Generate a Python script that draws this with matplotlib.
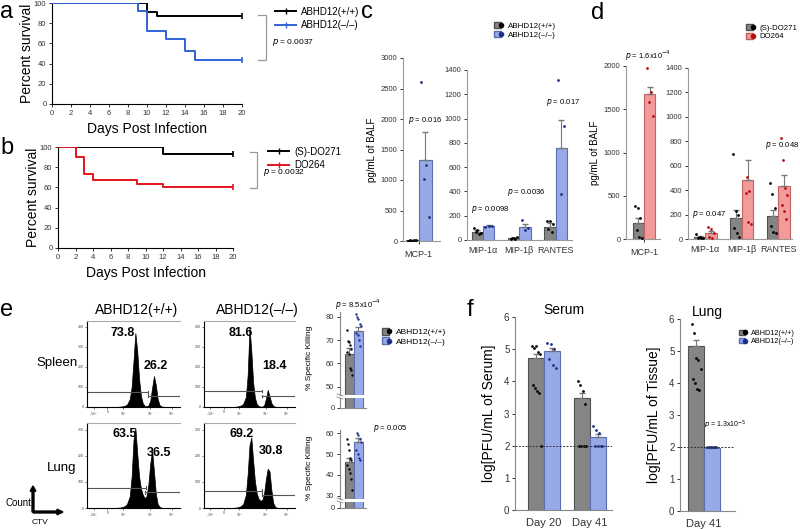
import numpy as np
import matplotlib
matplotlib.use('Agg')
import matplotlib.pyplot as plt
from matplotlib.lines import Line2D
from matplotlib.patches import Patch
from matplotlib.legend_handler import HandlerTuple

plt.rcParams['font.family'] = ['Liberation Sans', 'DejaVu Sans']
plt.rcParams['axes.linewidth'] = 0.8

# ---- data ----
# a: survival ABHD12
days_a_wt = [0, 10, 11, 20]
surv_a_wt = [100, 91, 87, 87]
days_a_ko = [0, 9, 10, 12, 14, 15, 20]
surv_a_ko = [100, 92, 72, 64, 52, 44, 44]
# b: survival DO271 / DO264
days_b_ctrl = [0, 12, 20]
surv_b_ctrl = [100, 93, 93]
days_b_inh = [0, 2, 3, 4, 9, 12, 20]
surv_b_inh = [100, 90, 73, 67, 63, 60, 60]

# c: cytokines ABHD12(+/+) vs (-/-)
c_wt_mean = [10, 70, 15, 110]
c_wt_err = [5, 15, 5, 30]
c_ko_mean = [1320, 115, 105, 755]
c_ko_err = [470, 8, 25, 230]
c_wt_pts = [[5, 8, 12, 15, 20], [95, 85, 60, 65, 50], [10, 20, 25, 15, 8], [160, 155, 130, 90, 70]]
c_ko_pts = [[2610, 1240, 1010, 390], [110, 112, 118], [165, 100, 85], [1320, 935, 375]]
c_pvals = ['0.016', '0.0098', '0.0036', '0.017']

# d: cytokines (S)-DO271 vs DO264
d_ctrl_mean = [185, 15, 170, 190]
d_ctrl_err = [55, 6, 70, 50]
d_inh_mean = [1680, 48, 480, 430]
d_inh_err = [80, 18, 170, 90]
d_ctrl_pts = [[380, 360, 240, 100, 20, 10], [40, 20, 12, 8, 5], [700, 230, 200, 90, 50, 20],
              [460, 370, 250, 110, 60, 50]]
d_inh_pts = [[1980, 1700, 1580, 1420], [100, 80, 50, 20, 5], [1420, 510, 390, 380, 140, 120],
             [830, 650, 420, 360, 280, 230, 160]]
d_pvals = [r'$p$ = 1.6x10$^{-4}$', r'$p$ = 0.047', None, r'$p$ = 0.048']

cyto_left = ['MCP-1']
cyto_right = ['MIP-1α', 'MIP-1β', 'RANTES']

# e: CTV histograms (channel, count)
hist_ch = [0, 30, 36, 40, 43, 46, 48, 50, 52, 54, 56, 58, 60, 62, 64, 66, 68, 70, 72, 74, 76, 78, 80, 84, 100]
hist_spleen_wt = [0, 0, 2, 5, 12, 40, 100, 230, 370, 280, 140, 55, 18, 6, 4, 8, 30, 95, 155, 110, 40, 10, 3, 0, 0]
hist_spleen_ko = [0, 0, 2, 6, 15, 50, 160, 400, 280, 120, 45, 15, 5, 2, 2, 8, 40, 85, 55, 20, 6, 2, 0, 0, 0]
hist_lung_wt = [0, 0, 2, 6, 15, 45, 120, 260, 305, 210, 120, 75, 50, 38, 45, 90, 170, 220, 140, 55, 15, 5, 1, 0, 0]
hist_lung_ko = [0, 0, 2, 6, 15, 50, 130, 240, 270, 180, 100, 55, 35, 28, 30, 55, 110, 150, 140, 70, 20, 5, 1, 0, 0]
pct_spleen_wt = ['73.8', '26.2']
pct_spleen_ko = ['81.6', '18.4']
pct_lung_wt = ['63.5', '36.5']
pct_lung_ko = ['69.2', '30.8']
# gates: (x_start, x_end, level)
gates_spleen_wt = [(0, 66, 76), (66, 100, 57)]
gates_spleen_ko = [(0, 64, 80), (64, 100, 54)]
gates_lung_wt = [(0, 63, 78), (62, 100, 60)]
gates_lung_ko = [(0, 64, 65), (64, 100, 50)]

# e: % specific killing
kill_spleen_mean = [64, 74]
kill_spleen_err = [2.5, 1.5]
kill_spleen_pts = [[74.5, 69.5, 69, 68, 66, 65, 64, 58, 57, 55], [81, 80, 79, 77, 76, 73, 72, 70, 67.5]]
kill_lung_mean = [46, 56]
kill_lung_err = [2, 1.5]
kill_lung_pts = [[57, 55, 52, 48, 47, 45, 43, 41, 38, 33], [64, 60, 59, 57, 56, 52, 50, 48, 47]]

# f: viral titers
days_f = ['Day 20', 'Day 41']
serum_wt_mean = [4.72, 3.48]
serum_wt_err = [0.13, 0.17]
serum_ko_mean = [4.95, 2.27]
serum_ko_err = [0.1, 0.08]
serum_wt_pts = [[5.1, 5.05, 5.1, 4.9, 4.85, 3.9, 3.8, 3.7, 3.65, 2.0], [4.0, 3.9, 3.7, 3.3, 2.0, 2.0, 2.0, 2.0]]
serum_ko_pts = [[5.2, 5.15, 5.0, 4.7, 4.5, 4.4], [2.6, 2.5, 2.4, 2.0, 2.0, 2.0, 2.0]]
lung_wt_mean = [5.15]
lung_wt_err = [0.2]
lung_ko_mean = [1.97]
lung_ko_err = [0.03]
lung_wt_pts = [[5.85, 5.55, 4.78, 4.72, 4.45, 4.12, 4.0, 3.82, 3.78]]
lung_ko_pts = [[2, 2, 2, 2, 2, 2]]

# colours
GRAY = '#858585'
GRAY_E = '#505050'
BLUE = '#98aae6'
BLUE_E = '#5a6db5'
NAVY = '#1c2f8c'
RED = '#f39a9b'
RED_E = '#c46060'
DRED = '#b21010'

W, H = 800, 529
fig = plt.figure(figsize=(8, 5.29), dpi=100)


def px_axes(l, t, r, b):
    return fig.add_axes([l / W, 1 - b / H, (r - l) / W, (b - t) / H])


def ftext(x, y, s, **kw):
    fig.text(x / W, 1 - y / H, s, **kw)


def fline(xs, ys, **kw):
    fig.add_artist(Line2D([x / W for x in xs], [1 - y / H for y in ys], **kw))


def style(ax, fs=5.5, color='black'):
    for s in ['top', 'right']:
        ax.spines[s].set_visible(False)
    for s in ['left', 'bottom']:
        ax.spines[s].set_color(color)
    ax.tick_params(labelsize=fs, length=2.5, width=0.7, pad=1.5, colors='#333333')


def dots(ax, x, pts, w, color, s=4):
    n = len(pts)
    offs = np.linspace(-0.28, 0.28, n) * w if n > 1 else [0]
    offs = np.array(offs)[np.argsort(np.arange(n) % 2, kind='stable')]
    ax.scatter(x + offs, pts, s=s, color=color, zorder=4, linewidths=0)


def bar_pair(ax, x, w, m1, e1, p1, m2, e2, p2, c1, ce1, d1, c2, ce2, d2, s=4):
    ax.bar(x - w / 2, m1, w, color=c1, edgecolor=ce1, linewidth=0.8, zorder=2)
    ax.bar(x + w / 2, m2, w, color=c2, edgecolor=ce2, linewidth=0.8, zorder=2)
    ax.errorbar([x - w / 2], [m1], yerr=[[0], [e1]], fmt='none', ecolor='#777777',
                elinewidth=0.8, capsize=2, zorder=3)
    ax.errorbar([x + w / 2], [m2], yerr=[[0], [e2]], fmt='none', ecolor='#777777',
                elinewidth=0.8, capsize=2, zorder=3)
    dots(ax, x - w / 2, p1, w, d1, s)
    dots(ax, x + w / 2, p2, w, d2, s)


def survival(ax, d1, s1, c1, d2, s2, c2):
    ax.plot(d1, s1, drawstyle='steps-post', color=c1, lw=1.4, zorder=3)
    ax.plot(d2, s2, drawstyle='steps-post', color=c2, lw=1.4, zorder=3)
    ax.plot([d1[-1]], [s1[-1]], marker='|', color=c1, ms=5, mew=1.2)
    ax.plot([d2[-1]], [s2[-1]], marker='|', color=c2, ms=5, mew=1.2)
    ax.set_xlim(0, 20)
    ax.set_ylim(0, 100)
    ax.set_xticks(range(0, 21, 2))
    ax.set_yticks(range(0, 101, 20))
    style(ax, 5.5)
    ax.set_xlabel('Days Post Infection', fontsize=10, labelpad=4)
    ax.set_ylabel('Percent survival', fontsize=10, labelpad=0)


def legend_pair(h, labels, x, y, fs=6):
    fig.legend(handles=h, labels=labels, loc='upper left',
               bbox_to_anchor=(x / W, 1 - y / H), frameon=False, fontsize=fs,
               handler_map={tuple: HandlerTuple(ndivide=None, pad=-0.4)},
               handlelength=1.3, handleheight=0.8, handletextpad=0.4, labelspacing=0.15, borderpad=0)


# ---- a ----
ax_a = px_axes(52, 3, 242, 104)
survival(ax_a, days_a_wt, surv_a_wt, 'black', days_a_ko, surv_a_ko, '#2f62d4')
fig.legend(handles=[Line2D([], [], color='black', lw=1.4, marker='|', ms=5),
                    Line2D([], [], color='#2f62d4', lw=1.4, marker='|', ms=5)],
           labels=['ABHD12(+/+)', 'ABHD12(–/–)'], loc='upper left',
           bbox_to_anchor=(270 / W, 1 - 2 / H), frameon=False, fontsize=7,
           handlelength=2.2, handletextpad=0.5, labelspacing=0.35, borderpad=0)
fline([258, 266, 266, 258], [15, 15, 60, 60], color='#999999', lw=0.9)
ftext(272, 42, r'$p$ = 0.0037', fontsize=6, va='center')

# ---- b ----
ax_b = px_axes(58, 147, 233, 248)
survival(ax_b, days_b_ctrl, surv_b_ctrl, 'black', days_b_inh, surv_b_inh, '#e3141b')
fig.legend(handles=[Line2D([], [], color='black', lw=1.4, marker='|', ms=5),
                    Line2D([], [], color='#e3141b', lw=1.4, marker='|', ms=5)],
           labels=['(S)-DO271', 'DO264'], loc='upper left',
           bbox_to_anchor=(263 / W, 1 - 142 / H), frameon=False, fontsize=7,
           handlelength=2.2, handletextpad=0.5, labelspacing=0.35, borderpad=0)
fline([250, 257, 257, 250], [152, 152, 188, 188], color='#999999', lw=0.9)
ftext(263, 173, r'$p$ = 0.0032', fontsize=6, va='center')

# ---- c ----
bw = 1.0
ax_c1 = px_axes(403, 58, 440, 241)
bar_pair(ax_c1, 0, bw, c_wt_mean[0], c_wt_err[0], c_wt_pts[0], c_ko_mean[0], c_ko_err[0], c_ko_pts[0],
         GRAY, GRAY_E, 'black', BLUE, BLUE_E, NAVY)
ax_c1.set_xlim(-1.2, 1.65)
ax_c1.set_ylim(0, 3000)
ax_c1.set_yticks(range(0, 3001, 500))
ax_c1.set_xticks([0])
ax_c1.set_xticklabels(cyto_left)
style(ax_c1, 5.5, '#999999')
ax_c1.tick_params(axis='x', labelsize=6.5, pad=4)
ax_c1.set_ylabel('pg/mL of BALF', fontsize=7, labelpad=3)
ax_c1.text(0.5, 1950, r'$p$ = 0.016', fontsize=5.5, ha='center')

ax_c2 = px_axes(467, 70, 572, 240)
bw2 = 0.31
for i in range(3):
    bar_pair(ax_c2, i, bw2, c_wt_mean[i + 1], c_wt_err[i + 1], c_wt_pts[i + 1],
             c_ko_mean[i + 1], c_ko_err[i + 1], c_ko_pts[i + 1],
             GRAY, GRAY_E, 'black', BLUE, BLUE_E, NAVY)
ax_c2.set_xlim(-0.44, 2.45)
ax_c2.set_ylim(0, 1400)
ax_c2.set_yticks(range(0, 1401, 200))
ax_c2.set_xticks(range(3))
ax_c2.set_xticklabels(cyto_right)
style(ax_c2, 5.5, '#999999')
ax_c2.tick_params(axis='x', labelsize=6.5, pad=4, length=0)
for i, yv in zip(range(1, 4), [240, 380, 1120]):
    ax_c2.text(i - 1 + 0.2, yv, r'$p$ = ' + c_pvals[i], fontsize=5.5, ha='center')

leg_h_c = [(Patch(facecolor=GRAY, edgecolor=GRAY_E), Line2D([], [], ls='', marker='o', color='black', ms=3)),
           (Patch(facecolor=BLUE, edgecolor=BLUE_E), Line2D([], [], ls='', marker='o', color=NAVY, ms=3))]
legend_pair(leg_h_c, ['ABHD12(+/+)', 'ABHD12(–/–)'], 490, 18, 5.8)

# ---- d ----
ax_d1 = px_axes(626, 66, 660, 239)
bar_pair(ax_d1, 0, bw, d_ctrl_mean[0], d_ctrl_err[0], d_ctrl_pts[0], d_inh_mean[0], d_inh_err[0], d_inh_pts[0],
         GRAY, GRAY_E, 'black', RED, RED_E, DRED)
ax_d1.set_xlim(-1.6, 1.4)
ax_d1.set_ylim(0, 2000)
ax_d1.set_yticks(range(0, 2001, 500))
ax_d1.set_xticks([0])
ax_d1.set_xticklabels(cyto_left)
style(ax_d1, 5.5, '#999999')
ax_d1.tick_params(axis='x', labelsize=6.5, pad=4)
ax_d1.set_ylabel('pg/mL of BALF', fontsize=7, labelpad=3)
ax_d1.text(0.3, 2080, d_pvals[0], fontsize=5.5, ha='center', clip_on=False)

ax_d2 = px_axes(688, 68, 792, 239)
bw3 = 0.31
for i in range(3):
    bar_pair(ax_d2, i, bw3, d_ctrl_mean[i + 1], d_ctrl_err[i + 1], d_ctrl_pts[i + 1],
             d_inh_mean[i + 1], d_inh_err[i + 1], d_inh_pts[i + 1],
             GRAY, GRAY_E, 'black', RED, RED_E, DRED)
ax_d2.set_xlim(-0.47, 2.37)
ax_d2.set_ylim(0, 1400)
ax_d2.set_yticks(range(0, 1401, 200))
ax_d2.set_xticks(range(3))
ax_d2.set_xticklabels(cyto_right)
style(ax_d2, 5.5, '#999999')
ax_d2.tick_params(axis='x', labelsize=6.5, pad=4, length=0)
for i, yv in zip([1, 3], [190, 750]):
    ax_d2.text(i - 1 + 0.1, yv, d_pvals[i], fontsize=5.5, ha='center')

leg_h_d = [(Patch(facecolor=GRAY, edgecolor=GRAY_E), Line2D([], [], ls='', marker='o', color='black', ms=3)),
           (Patch(facecolor=RED, edgecolor=RED_E), Line2D([], [], ls='', marker='o', color=DRED, ms=3))]
legend_pair(leg_h_d, ['(S)-DO271', 'DO264'], 742, 20, 5.6)

# ---- e: histograms ----
hist_specs = [((87, 321, 180, 407), hist_spleen_wt, pct_spleen_wt, gates_spleen_wt, 430, 400),
              ((204, 321, 295, 407), hist_spleen_ko, pct_spleen_ko, gates_spleen_ko, 430, 400),
              ((87, 423, 180, 508), hist_lung_wt, pct_lung_wt, gates_lung_wt, 325, 300),
              ((204, 423, 295, 508), hist_lung_ko, pct_lung_ko, gates_lung_ko, 325, 300)]
pct_pos = [[(0.38, 0.86), (0.74, 0.48)], [(0.41, 0.86), (0.78, 0.48)],
           [(0.41, 0.87), (0.77, 0.65)], [(0.41, 0.87), (0.74, 0.67)]]
for k, (box, counts, pcts, gates, ytop, ymaxt) in enumerate(hist_specs):
    ax = px_axes(*box)
    ax.fill_between(hist_ch, counts, color='black', lw=0.5)
    for x0, x1, lev in gates:
        ax.plot([x0, x1], [lev, lev], color='#555555', lw=0.8)
        ax.plot([x1, x1], [lev - 6, lev + 6], color='#555555', lw=0.8)
        if x0 > 0:
            ax.plot([x0, x0], [lev - 6, lev + 6], color='#555555', lw=0.8)
    ax.set_xlim(0, 100)
    ax.set_ylim(0, ytop)
    ax.set_yticks(range(0, ymaxt + 1, 100))
    ax.set_xticks([7, 22, 39, 68, 91])
    ax.set_xticklabels(['-10$^3$', '0', '10$^3$', '10$^4$', '10$^5$'])
    ax.spines['right'].set_visible(False)
    ax.spines['top'].set_color('#aaaaaa')
    ax.tick_params(labelsize=2.5, length=1.5, width=0.5, pad=1, colors='#444444')
    for (tx, ty), s in zip(pct_pos[k], pcts):
        ax.text(tx, ty, s, transform=ax.transAxes, fontsize=9, fontweight='bold', ha='center', va='center')

ftext(137, 310, 'ABHD12(+/+)', fontsize=10, ha='center', va='center')
ftext(257, 310, 'ABHD12(–/–)', fontsize=10, ha='center', va='center')
ftext(57, 363, 'Spleen', fontsize=9.5, ha='center', va='center')
ftext(62, 468, 'Lung', fontsize=9.5, ha='center', va='center')
fig.add_artist(plt.Arrow(33 / W, 1 - 512 / H, 0, 26 / H, width=0.012, color='black'))
fig.add_artist(plt.Arrow(33 / W, 1 - 512 / H, 30 / W, 0, width=0.018, color='black'))
ftext(18, 503, 'Count', fontsize=7, ha='center', va='center')
ftext(40, 523, 'CTV', fontsize=6, ha='center', va='center')


# ---- e: killing bars with broken axis ----
def kill_panel(top, brk, bot, lo, hi, ticks, mean, err, pts, pval, pxy):
    au = px_axes(340, top, 366, brk)
    al = px_axes(340, brk + 3, 366, bot)
    for ax in (au, al):
        bar_pair(ax, 0.5, 1.0, mean[0], err[0], pts[0], mean[1], err[1], pts[1],
                 GRAY, GRAY_E, 'black', BLUE, BLUE_E, NAVY, s=3)
        ax.set_xlim(-1.05, 1.85)
        style(ax, 5.5, '#888888')
        ax.set_xticks([])
        ax.spines['bottom'].set_visible(ax is al)
    au.set_ylim(lo, hi)
    au.set_yticks(ticks)
    al.set_ylim(0, 4)
    al.set_yticks([0])
    au.set_ylabel('% Specific Killing', fontsize=6, labelpad=3)
    au.yaxis.set_label_coords(-1.05, 0.45)
    fline([337, 343], [brk - 1, brk + 1], color='#888888', lw=0.6)
    fline([337, 343], [brk + 2, brk + 4], color='#888888', lw=0.6)
    ftext(pxy[0], pxy[1], pval, fontsize=5.5, ha='center', va='center')


kill_panel(312, 395, 408, 46.5, 82, [50, 60, 70, 80], kill_spleen_mean, kill_spleen_err,
           kill_spleen_pts, r'$p$ = 8.5x10$^{-4}$', (358, 305))
kill_panel(430, 499, 508, 28.5, 61.5, [30, 40, 50, 60], kill_lung_mean, kill_lung_err,
           kill_lung_pts, r'$p$ = 0.005', (390, 428))

leg_h_e = [(Patch(facecolor=GRAY, edgecolor=GRAY_E), Line2D([], [], ls='', marker='o', color='black', ms=3)),
           (Patch(facecolor=BLUE, edgecolor=BLUE_E), Line2D([], [], ls='', marker='o', color=NAVY, ms=3))]
legend_pair(leg_h_e, ['ABHD12(+/+)', 'ABHD12(–/–)'], 378, 324, 6)

# ---- f ----
fw = 0.34
ax_f1 = px_axes(515, 317, 612, 510)
for i in range(2):
    bar_pair(ax_f1, i, fw, serum_wt_mean[i], serum_wt_err[i], serum_wt_pts[i],
             serum_ko_mean[i], serum_ko_err[i], serum_ko_pts[i],
             GRAY, GRAY_E, 'black', BLUE, BLUE_E, NAVY, s=4)
ax_f1.axhline(2, color='#333333', lw=0.7, ls=(0, (2, 1.5)), zorder=5)
ax_f1.set_xlim(-0.63, 1.48)
ax_f1.set_ylim(0, 6)
ax_f1.set_xticks(range(2))
ax_f1.set_xticklabels(days_f)
style(ax_f1, 7, '#888888')
ax_f1.tick_params(axis='x', labelsize=8, length=0, pad=6)
ax_f1.set_ylabel('log[PFU/mL of Serum]', fontsize=10, labelpad=6)
ax_f1.set_title('Serum', fontsize=10, pad=2)

ax_f2 = px_axes(680, 319, 735, 511)
bar_pair(ax_f2, 0, fw, lung_wt_mean[0], lung_wt_err[0], lung_wt_pts[0],
         lung_ko_mean[0], lung_ko_err[0], lung_ko_pts[0],
         GRAY, GRAY_E, 'black', BLUE, BLUE_E, NAVY, s=4)
ax_f2.axhline(2, color='#333333', lw=0.7, ls=(0, (2, 1.5)), zorder=5)
ax_f2.set_xlim(-0.52, 0.67)
ax_f2.set_ylim(0, 6)
ax_f2.set_xticks([0])
ax_f2.set_xticklabels(days_f[1:])
style(ax_f2, 7, '#888888')
ax_f2.tick_params(axis='x', labelsize=8, length=0, pad=6)
ax_f2.set_ylabel('log[PFU/mL of Tissue]', fontsize=10, labelpad=6)
ax_f2.set_title('Lung', fontsize=10, pad=2)
ax_f2.text(0.45, 2.69, r'$p$ = 1.3x10$^{-5}$', fontsize=5, ha='center', va='center')

legend_pair(leg_h_e, ['ABHD12(+/+)', 'ABHD12(–/–)'], 735, 326, 5.2)

# panel letters
for s, x, y in [('a', 0, 18), ('b', 0, 154), ('c', 361, 18), ('d', 591, 19), ('e', 0, 316), ('f', 467, 316)]:
    ftext(x, y, s, fontsize=17, va='baseline')

fig.savefig('out.png', dpi=100)
